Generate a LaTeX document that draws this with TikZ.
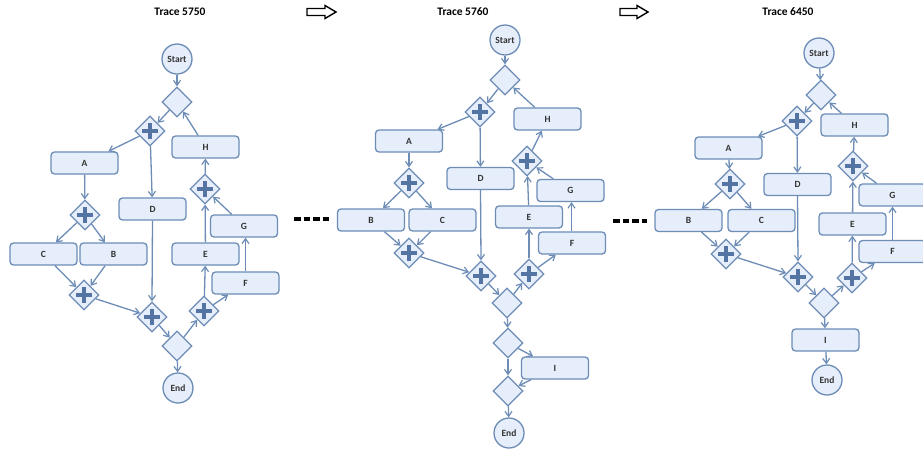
\documentclass[tikz,border=0pt]{standalone}
\usepackage{fontspec}
\setmainfont{Carlito}
\usetikzlibrary{shapes.geometric,arrows.meta}
\definecolor{bstroke}{HTML}{6D8DB7}
\definecolor{bfill}{HTML}{E5EEFA}
\definecolor{plusc}{HTML}{5475A3}
\definecolor{txt}{HTML}{333333}
\tikzset{
  task/.style={rectangle,rounded corners=3.5,draw=bstroke,fill=bfill,line width=1.3,
    minimum width=67,minimum height=22,inner sep=0,text=txt,font=\bfseries\fontsize{9.5}{10}\selectfont},
  gw/.style={diamond,draw=bstroke,fill=bfill,line width=1.3,minimum width=30,minimum height=30,inner sep=0},
  andgw/.style={gw,path picture={
     \draw[plusc,line width=3.2] ([xshift=-8pt]path picture bounding box.center) -- ([xshift=8pt]path picture bounding box.center);
     \draw[plusc,line width=3.2] ([yshift=-8pt]path picture bounding box.center) -- ([yshift=8pt]path picture bounding box.center);}},
  ev/.style={circle,draw=bstroke,fill=bfill,line width=1.3,minimum size=30,inner sep=0,text=txt,font=\bfseries\fontsize{9.5}{10}\selectfont},
  flow/.style={draw=bstroke,line width=1.3,-{Straight Barb[length=5pt,width=7pt,line width=1.2pt]}},
  ttl/.style={font=\bfseries\fontsize{11.5}{12}\selectfont,text=black},
  hollow/.style={draw=black,line width=1.4,fill=white},
  dots/.style={draw=black,line width=3.2,dash pattern=on 6.5pt off 3pt}
}
\begin{document}
\begin{tikzpicture}[x=1pt,y=-1pt]
\clip (0,0) rectangle (923,450);
\fill[white] (0,0) rectangle (923,450);
% titles
\node[ttl] (t1) at (180,12) {Trace 5750};
\node[ttl] (t2) at (463,12) {Trace 5760};
\node[ttl] (t3) at (788,12) {Trace 6450};
% hollow arrows
\draw[hollow] (307,8.5) -- (325,8.5) -- (325,5.5) -- (336,12) -- (325,18.5) -- (325,15.5) -- (307,15.5) -- cycle;
\draw[hollow] (620,8.5) -- (637,8.5) -- (637,5.5) -- (648,12) -- (637,18.5) -- (637,15.5) -- (620,15.5) -- cycle;
% dashes
\coordinate (d1a) at (294,219); \coordinate (d1b) at (329,219);
\coordinate (d2a) at (613,221); \coordinate (d2b) at (647,221);
\draw[dots] (d1a) -- (d1b);
\draw[dots] (d2a) -- (d2b);

% ===== Diagram 1 =====
\node[ev] (aS) at (177,59) {Start};
\node[gw] (aX1) at (177,102) {};
\node[andgw] (aP1) at (150,131) {};
\node[task] (aH) at (205.5,147) {H};
\node[task] (aA) at (84.5,163) {A};
\node[andgw] (aP2) at (85,215) {};
\node[task] (aD) at (152.5,209) {D};
\node[andgw] (aPH) at (205,189) {};
\node[task] (aG) at (244,226) {G};
\node[task] (aC) at (43.5,254) {C};
\node[task] (aB) at (113.5,254) {B};
\node[task] (aE) at (205.5,254) {E};
\node[task] (aF) at (245.5,283) {F};
\node[andgw] (aPJ) at (84,295) {};
\node[andgw] (aPD) at (152,317) {};
\node[gw] (aX2) at (177,346) {};
\node[andgw] (aPS) at (204,311) {};
\node[ev] (aEnd) at (178,388) {End};
\draw[flow] (aS) -- (aX1);
\draw[flow] (aX1) -- (aP1);
\draw[flow] (aP1) -- (aA);
\draw[flow] (aP1) -- (aD);
\draw[flow] (aA) -- (aP2);
\draw[flow] (aP2) -- (aC);
\draw[flow] (aP2) -- (aB);
\draw[flow] (aC) -- (aPJ);
\draw[flow] (aB) -- (aPJ);
\draw[flow] (aPJ) -- (aPD);
\draw[flow] (aD.south) -- (aPD.north);
\draw[flow] (aPD) -- (aX2);
\draw[flow] (aX2) -- (aEnd);
\draw[flow] (aX2) -- (aPS);
\draw[flow] (aPS) -- (aE);
\draw[flow] (aPS) -- (aF);
\draw[flow] (aF.north) -- (aF.north |- aG.south);
\draw[flow] (aE) -- (aPH);
\draw[flow] (aG) -- (aPH);
\draw[flow] (aPH) -- (aH);
\draw[flow] (aH) -- (aX1);

% ===== Diagram 2 =====
\node[ev] (bS) at (505,40) {Start};
\node[gw] (bX1) at (505,80) {};
\node[andgw] (bP1) at (480,112) {};
\node[task] (bH) at (547.5,119) {H};
\node[task] (bA) at (409,141) {A};
\node[andgw] (bP2) at (409,183) {};
\node[task] (bD) at (480.5,178.5) {D};
\node[andgw] (bPH) at (527,161) {};
\node[task] (bG) at (570.5,190.5) {G};
\node[task] (bB) at (371,220) {B};
\node[task] (bC) at (442.5,220) {C};
\node[task] (bE) at (529,217) {E};
\node[task] (bF) at (572,243) {F};
\node[andgw] (bPJ) at (409,253) {};
\node[andgw] (bPD) at (481,276) {};
\node[andgw] (bPS) at (529,274) {};
\node[gw] (bX2) at (507,303) {};
\node[gw] (bX3) at (508,343) {};
\node[task] (bI) at (555,368) {I};
\node[gw] (bX4) at (508,391) {};
\node[ev] (bEnd) at (509,433) {End};
\draw[flow] (bS) -- (bX1);
\draw[flow] (bX1) -- (bP1);
\draw[flow] (bP1) -- (bA);
\draw[flow] (bP1) -- (bD);
\draw[flow] (bA) -- (bP2);
\draw[flow] (bP2) -- (bB);
\draw[flow] (bP2) -- (bC);
\draw[flow] (bB) -- (bPJ);
\draw[flow] (bC) -- (bPJ);
\draw[flow] (bPJ) -- (bPD);
\draw[flow] (bD.south) -- (bPD.north);
\draw[flow] (bPD) -- (bX2);
\draw[flow] (bX2) -- (bPS);
\draw[flow] (bPS) -- (bE);
\draw[flow] (bPS) -- (bF);
\draw[flow] (bF.north -| bG.south) ++(1,0) coordinate (bFG) -- (bFG |- bG.south);
\draw[flow] (bE) -- (bPH);
\draw[flow] (bG) -- (bPH);
\draw[flow] (bPH) -- (bH);
\draw[flow] (bH) -- (bX1);
\draw[flow] (bX2) -- (bX3);
\draw[flow] (bX3) -- (bI);
\draw[flow] (bX3) -- (bX4);
\draw[flow] (bI) -- (bX4);
\draw[flow] (bX4) -- (bEnd);

% ===== Diagram 3 =====
\node[ev] (cS) at (819,53) {Start};
\node[gw] (cX1) at (821,95) {};
\node[andgw] (cP1) at (797,121) {};
\node[task] (cH) at (854.5,125) {H};
\node[task] (cA) at (728.5,148) {A};
\node[andgw] (cP2) at (730,184) {};
\node[task] (cD) at (797.5,184.5) {D};
\node[andgw] (cPH) at (853,166) {};
\node[task] (cG) at (892.5,195) {G};
\node[task] (cB) at (688.5,220.5) {B};
\node[task] (cC) at (761.5,220.5) {C};
\node[task] (cE) at (852.5,224) {E};
\node[task] (cF) at (892.5,251.5) {F};
\node[andgw] (cPJ) at (726,254) {};
\node[andgw] (cPD) at (798,277) {};
\node[andgw] (cPS) at (852,278) {};
\node[gw] (cX2) at (824,303) {};
\node[task] (cI) at (825.5,340) {I};
\node[ev] (cEnd) at (827,380) {End};
\draw[flow] (cS) -- (cX1);
\draw[flow] (cX1) -- (cP1);
\draw[flow] (cP1) -- (cA);
\draw[flow] (cP1) -- (cD);
\draw[flow] (cA) -- (cP2);
\draw[flow] (cP2) -- (cB);
\draw[flow] (cP2) -- (cC);
\draw[flow] (cB) -- (cPJ);
\draw[flow] (cC) -- (cPJ);
\draw[flow] (cPJ) -- (cPD);
\draw[flow] (cD.south) -- (cPD.north);
\draw[flow] (cPD) -- (cX2);
\draw[flow] (cX2) -- (cPS);
\draw[flow] (cPS) -- (cE);
\draw[flow] (cPS) -- (cF);
\draw[flow] (cF.north) -- (cF.north |- cG.south);
\draw[flow] (cE) -- (cPH);
\draw[flow] (cG) -- (cPH);
\draw[flow] (cPH) -- (cH);
\draw[flow] (cH) -- (cX1);
\draw[flow] (cX2) -- (cI);
\draw[flow] (cI) -- (cEnd);
\end{tikzpicture}
\end{document}
